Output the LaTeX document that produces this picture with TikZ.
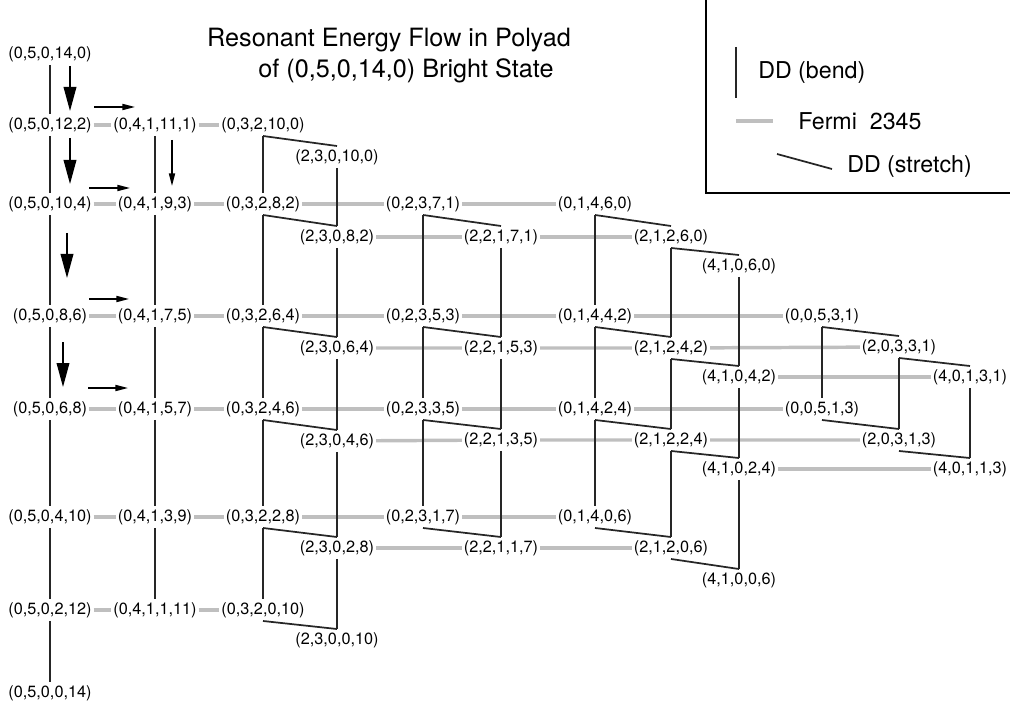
\documentclass[tikz,border=0pt]{standalone}
\usepackage{fontspec}
\setmainfont{TeX Gyre Heros}
\usetikzlibrary{arrows.meta}

\newcommand{\statesize}{\fontsize{12.2}{14}\selectfont}
\newcommand{\legsize}{\fontsize{17.4}{20}\selectfont}
\newcommand{\titlesize}{\fontsize{18.9}{22}\selectfont}

\begin{document}
\begin{tikzpicture}[x=0.75pt, y=-0.75pt,
    state/.style={font=\statesize, inner xsep=1.4pt, inner ysep=2.3pt},
    fermi/.style={line width=2.6pt, black!25},
    ddbend/.style={line width=1.2pt, black!85},
    ddstretch/.style={line width=1.3pt, black!85},
    flowdown/.style={line width=1.1pt, -{Triangle[length=18pt, width=9.5pt]}},
    flowsmall/.style={line width=1.1pt, -{Triangle[length=9.5pt, width=4.6pt]}},
    legtext/.style={font=\legsize, anchor=west, inner sep=0pt},
]
    \useasboundingbox (0,0) rectangle (1010,709);

    \node[font=\titlesize, anchor=base] (title) at (389,47) {Resonant Energy Flow in Polyad};
    \node[font=\titlesize, anchor=base] (subtitle) at (406,78) {of (0,5,0,14,0) Bright State};

    % column (0,5,0,*,*)
    \node[state] (A0) at (50,54) {(0,5,0,14,0)};
    \node[state] (A1) at (50,125) {(0,5,0,12,2)};
    \node[state] (A2) at (50,204) {(0,5,0,10,4)};
    \node[state] (A3) at (50,316) {(0,5,0,8,6)};
    \node[state] (A4) at (50,409) {(0,5,0,6,8)};
    \node[state] (A5) at (50,517) {(0,5,0,4,10)};
    \node[state] (A6) at (50,610) {(0,5,0,2,12)};
    \node[state] (A7) at (50,693) {(0,5,0,0,14)};

    % column (0,4,1,*,*)
    \node[state] (B1) at (155,125) {(0,4,1,11,1)};
    \node[state] (B2) at (155,204) {(0,4,1,9,3)};
    \node[state] (B3) at (155,316) {(0,4,1,7,5)};
    \node[state] (B4) at (155,409) {(0,4,1,5,7)};
    \node[state] (B5) at (155,517) {(0,4,1,3,9)};
    \node[state] (B6) at (155,610) {(0,4,1,1,11)};

    % columns (0,3,2,*,*) and (2,3,0,*,*)
    \node[state] (C1) at (263,125) {(0,3,2,10,0)};
    \node[state] (C2) at (263,204) {(0,3,2,8,2)};
    \node[state] (C3) at (263,316) {(0,3,2,6,4)};
    \node[state] (C4) at (263,409) {(0,3,2,4,6)};
    \node[state] (C5) at (263,517) {(0,3,2,2,8)};
    \node[state] (C6) at (263,610) {(0,3,2,0,10)};
    \node[state] (Cs1) at (337,157) {(2,3,0,10,0)};
    \node[state] (Cs2) at (337,237) {(2,3,0,8,2)};
    \node[state] (Cs3) at (337,348) {(2,3,0,6,4)};
    \node[state] (Cs4) at (337,441) {(2,3,0,4,6)};
    \node[state] (Cs5) at (337,548) {(2,3,0,2,8)};
    \node[state] (Cs6) at (337,640) {(2,3,0,0,10)};

    % columns (0,2,3,*,*) and (2,2,1,*,*)
    \node[state] (D2) at (423,204) {(0,2,3,7,1)};
    \node[state] (D3) at (423,316) {(0,2,3,5,3)};
    \node[state] (D4) at (423,409) {(0,2,3,3,5)};
    \node[state] (D5) at (423,517) {(0,2,3,1,7)};
    \node[state] (Ds2) at (501,237) {(2,2,1,7,1)};
    \node[state] (Ds3) at (501,348) {(2,2,1,5,3)};
    \node[state] (Ds4) at (501,440) {(2,2,1,3,5)};
    \node[state] (Ds5) at (501,548) {(2,2,1,1,7)};

    % columns (0,1,4,*,*), (2,1,2,*,*) and (4,1,0,*,*)
    \node[state] (E2) at (595,204) {(0,1,4,6,0)};
    \node[state] (E3) at (595,316) {(0,1,4,4,2)};
    \node[state] (E4) at (595,409) {(0,1,4,2,4)};
    \node[state] (E5) at (595,517) {(0,1,4,0,6)};
    \node[state] (Es2) at (671,237) {(2,1,2,6,0)};
    \node[state] (Es3) at (671,348) {(2,1,2,4,2)};
    \node[state] (Es4) at (671,440) {(2,1,2,2,4)};
    \node[state] (Es5) at (671,548) {(2,1,2,0,6)};
    \node[state] (Ess2) at (739,266) {(4,1,0,6,0)};
    \node[state] (Ess3) at (739,377) {(4,1,0,4,2)};
    \node[state] (Ess4) at (739,469) {(4,1,0,2,4)};
    \node[state] (Ess5) at (739,580) {(4,1,0,0,6)};

    % columns (0,0,5,*,*), (2,0,3,*,*) and (4,0,1,*,*)
    \node[state] (F3) at (822,316) {(0,0,5,3,1)};
    \node[state] (F4) at (822,409) {(0,0,5,1,3)};
    \node[state] (Fs3) at (899,347) {(2,0,3,3,1)};
    \node[state] (Fs4) at (899,440) {(2,0,3,1,3)};
    \node[state] (Fss3) at (970,377) {(4,0,1,3,1)};
    \node[state] (Fss4) at (970,469) {(4,0,1,1,3)};

    % Fermi 2345
    \draw[fermi] (A1) -- (B1) -- (C1);
    \draw[fermi] (A2) -- (B2) -- (C2) -- (D2) -- (E2);
    \draw[fermi] (A3) -- (B3) -- (C3) -- (D3) -- (E3) -- (F3);
    \draw[fermi] (A4) -- (B4) -- (C4) -- (D4) -- (E4) -- (F4);
    \draw[fermi] (A5) -- (B5) -- (C5) -- (D5) -- (E5);
    \draw[fermi] (A6) -- (B6) -- (C6);
    \draw[fermi] (Cs2) -- (Ds2) -- (Es2);
    \draw[fermi] (Cs3) -- (Ds3) -- (Es3) -- (Fs3);
    \draw[fermi] (Cs4) -- (Ds4) -- (Es4) -- (Fs4);
    \draw[fermi] (Cs5) -- (Ds5) -- (Es5);
    \draw[fermi] (Ess3) -- (Fss3);
    \draw[fermi] (Ess4) -- (Fss4);

    % DD (bend)
    \draw[ddbend] (A0) -- (A1) -- (A2) -- (A3) -- (A4) -- (A5) -- (A6) -- (A7);
    \draw[ddbend] (B1) -- (B2) -- (B3) -- (B4) -- (B5) -- (B6);
    \draw[ddbend] (C1) -- (C2) -- (C3) -- (C4) -- (C5) -- (C6);
    \draw[ddbend] (Cs1) -- (Cs2) -- (Cs3) -- (Cs4) -- (Cs5) -- (Cs6);
    \draw[ddbend] (D2) -- (D3) -- (D4) -- (D5);
    \draw[ddbend] (Ds2) -- (Ds3) -- (Ds4) -- (Ds5);
    \draw[ddbend] (E2) -- (E3) -- (E4) -- (E5);
    \draw[ddbend] (Es2) -- (Es3) -- (Es4) -- (Es5);
    \draw[ddbend] (Ess2) -- (Ess3) -- (Ess4) -- (Ess5);
    \draw[ddbend] (F3) -- (F4);
    \draw[ddbend] (Fs3) -- (Fs4);
    \draw[ddbend] (Fss3) -- (Fss4);

    % DD (stretch)
    \foreach \r in {1,...,6}
    \draw[ddstretch] (C\r.south) -- (Cs\r.north);
    \foreach \r in {2,...,5}
    \draw[ddstretch] (D\r.south) -- (Ds\r.north);
    \foreach \r in {2,...,5}
    \draw[ddstretch] (E\r.south) -- (Es\r.north) (Es\r.south) -- (Ess\r.north);
    \foreach \r in {3,4}
    \draw[ddstretch] (F\r.south) -- (Fs\r.north) (Fs\r.south) -- (Fss\r.north);

    % flow arrows
    \foreach \x/\ya/\yb in {70/66/111, 70/138/184, 67/233/278, 63/342/387}
    \draw[flowdown] (\x,\ya) -- (\x,\yb);
    \foreach \xa/\xb/\y in {94/135/107, 89/130/188, 89/129/299, 88/128/388}
    \draw[flowsmall] (\xa,\y) -- (\xb,\y);
    \draw[flowsmall] (172,140) -- (172,186);

    % legend
    \draw[line width=1.1pt] (706,-2) -- (706,193) -- (1012,193);
    \draw[ddbend] (736,47) -- (736,98);
    \node[legtext] (bendlab) at (758,73) {DD (bend)};
    \draw[fermi] (736,121) -- (773,121);
    \node[legtext] (fermilab) at (798,121) {Fermi\ \ 2345};
    \draw[ddstretch] (777,154) -- (832,169);
    \node[legtext] (stretchlab) at (847,167) {DD (stretch)};
\end{tikzpicture}
\end{document}
